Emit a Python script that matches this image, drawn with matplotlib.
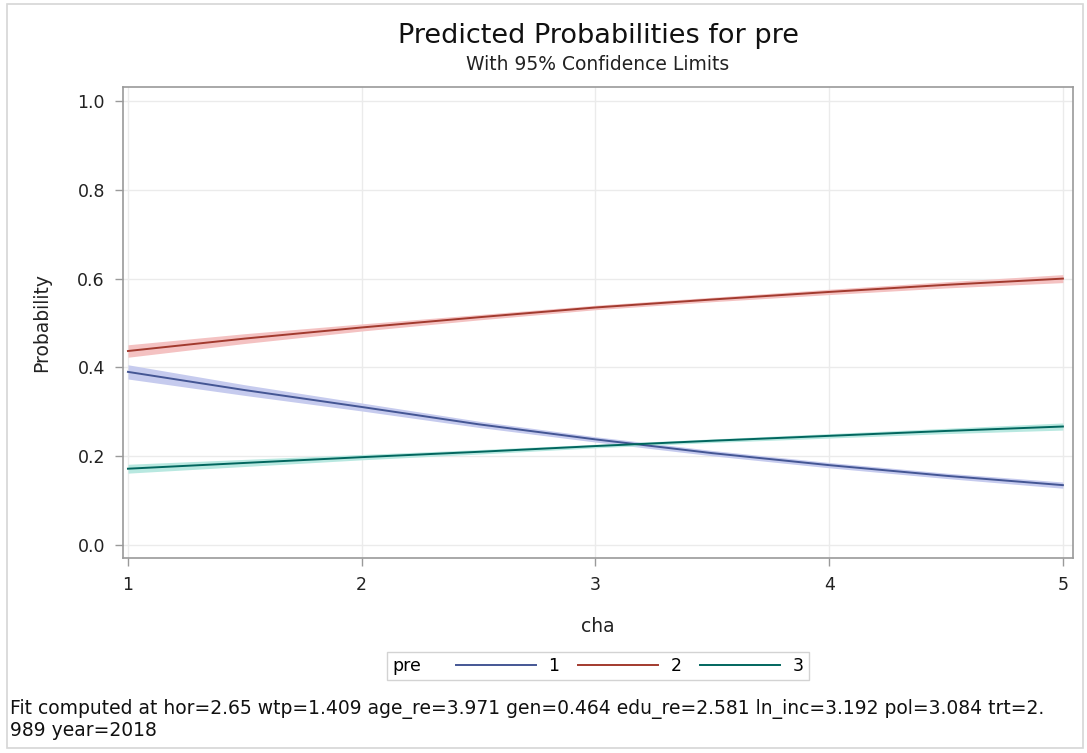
import numpy as np
import matplotlib
matplotlib.use("Agg")
import matplotlib.pyplot as plt
from matplotlib.patches import Rectangle
from matplotlib.offsetbox import HPacker

plt.rcParams['font.family'] = ['DejaVu Sans']

# data
cha = [1.0, 1.5, 2.0, 2.5, 3.0, 3.5, 4.0, 4.5, 5.0]
levels = ["1", "2", "3"]
prob1 = [0.390, 0.349, 0.311, 0.272, 0.238, 0.207, 0.180, 0.156, 0.135]
prob2 = [0.437, 0.465, 0.490, 0.513, 0.535, 0.553, 0.570, 0.586, 0.600]
prob3 = [0.172, 0.185, 0.198, 0.210, 0.223, 0.235, 0.246, 0.257, 0.267]
hw1 = [0.016, 0.012, 0.009, 0.007, 0.006, 0.006, 0.006, 0.006, 0.007]
hw2 = [0.014, 0.011, 0.008, 0.006, 0.005, 0.005, 0.006, 0.007, 0.009]
hw3 = [0.010, 0.008, 0.006, 0.005, 0.004, 0.004, 0.005, 0.006, 0.008]
xticks = [1, 2, 3, 4, 5]
yticks = [0.0, 0.2, 0.4, 0.6, 0.8, 1.0]
footnote = ("Fit computed at hor=2.65 wtp=1.409 age_re=3.971 gen=0.464 edu_re=2.581 "
            "ln_inc=3.192 pol=3.084 trt=2.\n989 year=2018")

line_cols = ["#445694", "#a23a2e", "#01665e"]
band_cols = ["#c6cbee", "#f4c2c2", "#b8e8e0"]

fig = plt.figure(figsize=(10.87, 7.53), dpi=100)
ax = fig.add_axes([0.1132, 0.2590, 0.8739, 0.6255])

x = np.array(cha)
for p, hw, lc, bc, lab in zip([prob1, prob2, prob3], [hw1, hw2, hw3],
                              line_cols, band_cols, levels):
    p = np.array(p)
    hw = np.array(hw)
    ax.fill_between(x, p - hw, p + hw, color=bc, lw=0, zorder=2)
    ax.plot(x, p, color=lc, lw=1.4, label=lab, zorder=3)

ax.set_xlim(0.979, 5.043)
ax.set_ylim(-0.029, 1.0315)
ax.set_xticks(xticks)
ax.set_yticks(yticks)
ax.set_yticklabels([f"{v:.1f}" for v in yticks])
ax.grid(True, color="#ebebeb", lw=1, zorder=0)
ax.set_axisbelow(True)
for s in ax.spines.values():
    s.set_color("#9a9a9a")
    s.set_linewidth(1.2)
ax.tick_params(direction="out", length=6, width=1, color="#9a9a9a",
               labelsize=12.5, labelcolor="#222222", pad=7)
ax.set_xlabel("cha", fontsize=13.5, color="#222222")
ax.set_ylabel("Probability", fontsize=13.5, color="#222222")
ax.xaxis.set_label_coords(0.5, -0.125)
ax.yaxis.set_label_coords(-0.0757, 0.5)

fig.text(0.5502, 0.952, "Predicted Probabilities for pre", ha="center", va="center",
         fontsize=19.5, color="#111111")
fig.text(0.5502, 0.914, "With 95% Confidence Limits", ha="center", va="center",
         fontsize=13.5, color="#222222")

leg = ax.legend(ncol=3, title="pre", loc="center", bbox_to_anchor=(0.5502, 0.1155),
                bbox_transform=fig.transFigure, fontsize=12.5, title_fontsize=12.5,
                handlelength=4.6, handletextpad=0.7, columnspacing=1.1,
                frameon=True, fancybox=False, edgecolor="#c8c8c8", borderpad=0.3)
leg.get_frame().set_linewidth(1)
# put the legend title on the left, as in the SAS output
fs = leg._fontsize
leg._legend_box = HPacker(pad=leg.borderpad * fs, sep=2.0 * fs, align="center",
                          children=[leg._legend_title_box, leg._legend_handle_box])
leg._legend_box.set_figure(leg.figure)
leg._legend_box.axes = leg.axes
leg._legend_box.set_offset(leg._findoffset)

fig.text(0.0092, 0.017, footnote, ha="left", va="bottom", fontsize=13.5,
         color="#111111", linespacing=1.15)

fig.patches.append(Rectangle((0.0064, 0.006), 0.9899, 0.9887, transform=fig.transFigure,
                             fill=False, edgecolor="#d6d6d6", lw=1.2))

fig.savefig("out.png", dpi=100)
